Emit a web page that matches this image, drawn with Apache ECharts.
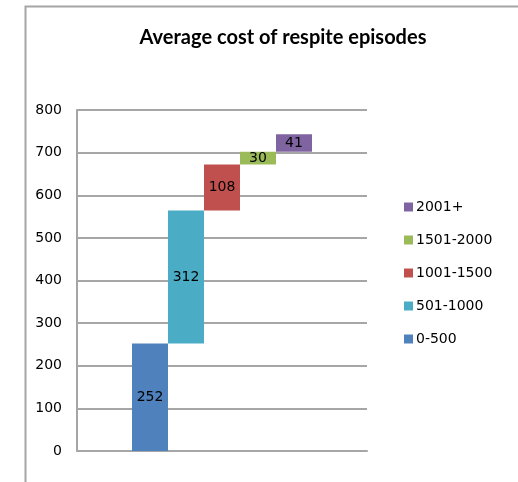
<!DOCTYPE html>
<html>
<head>
<meta charset="utf-8">
<script src="https://cdn.jsdelivr.net/npm/echarts@6/dist/echarts.min.js"></script>
<style>
  html, body { margin: 0; padding: 0; background: #fff; }
  #chart { width: 518px; height: 482px; }
</style>
</head>
<body>
<div id="chart"></div>
<script>
// Cost bands and the average cost contributed by each band
const bands = ['0-500', '501-1000', '1001-1500', '1501-2000', '2001+'];
const costs = [252, 312, 108, 30, 41];
const colors = ['#4F81BD', '#4BACC6', '#C0504D', '#9BBB59', '#8064A2'];
const yTicks = [0, 100, 200, 300, 400, 500, 600, 700, 800];

// Running totals give each floating bar its invisible base
const bases = [];
let acc = 0;
costs.forEach(v => { bases.push(acc); acc += v; });

const series = [];
bands.forEach((name, i) => {
  const stack = 'band' + i;
  series.push({
    name: 'base-' + name,
    type: 'bar',
    stack: stack,
    barWidth: 36,
    barGap: '0%',
    silent: true,
    itemStyle: { color: 'transparent' },
    data: [bases[i]]
  });
  series.push({
    name: name,
    type: 'bar',
    stack: stack,
    barWidth: 36,
    barGap: '0%',
    itemStyle: { color: colors[i] },
    label: {
      show: true,
      position: 'inside',
      color: '#000',
      fontFamily: 'DejaVu Sans',
      fontSize: 14
    },
    data: [costs[i]]
  });
});

const chart = echarts.init(document.getElementById('chart'), null, { renderer: 'canvas' });
chart.setOption({
  animation: false,
  title: {
    text: 'Average cost of respite episodes',
    left: 278,
    textAlign: 'center',
    top: 23,
    textStyle: { fontFamily: 'Lato', fontWeight: 'bold', fontSize: 20, color: '#000' }
  },
  graphic: [{
    type: 'rect',
    shape: { x: 25.5, y: 6.5, width: 600, height: 600 },
    style: { fill: 'none', stroke: '#A6A6A6', lineWidth: 2 },
    silent: true
  }],
  legend: {
    orient: 'vertical',
    left: 399,
    top: 195,
    itemWidth: 9,
    itemHeight: 9,
    itemGap: 19,
    icon: 'rect',
    data: bands.slice().reverse(),
    textStyle: { fontFamily: 'DejaVu Sans', fontSize: 14, lineHeight: 14, color: '#000', padding: [0, 0, 0, -2] }
  },
  grid: { left: 77, right: 151, top: 110, bottom: 31 },
  xAxis: {
    type: 'category',
    data: ['Average cost'],
    axisLine: { lineStyle: { color: '#A6A6A6', width: 2 } },
    axisTick: { show: false },
    axisLabel: { show: false }
  },
  yAxis: {
    type: 'value',
    min: yTicks[0],
    max: yTicks[yTicks.length - 1],
    interval: 100,
    axisLine: { show: true, lineStyle: { color: '#A6A6A6', width: 2 } },
    axisTick: { show: false },
    splitLine: { lineStyle: { color: '#A6A6A6', width: 2 } },
    axisLabel: { color: '#000', fontFamily: 'DejaVu Sans', fontSize: 14, margin: 15 }
  },
  series: series
});
</script>
</body>
</html>
